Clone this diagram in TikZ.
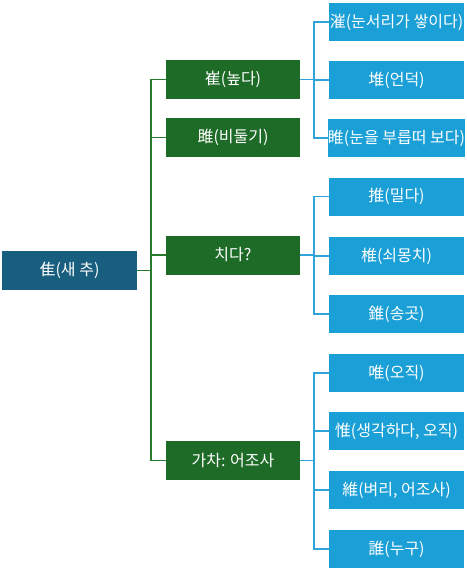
\documentclass[tikz,border=0pt]{standalone}
\usepackage{fontspec}
\setmainfont{Noto Sans CJK KR}
\definecolor{rootc}{HTML}{185E7E}
\definecolor{greenc}{HTML}{1E6B28}
\definecolor{bluec}{HTML}{1A9FD6}
\definecolor{glinec}{HTML}{2A7A30}
\definecolor{blinec}{HTML}{2EA4DA}
\begin{document}
\begin{tikzpicture}[x=1pt,y=-1pt,
  box/.style={inner sep=0pt, text=white, font=\fontsize{16}{19}\selectfont},
  rootbox/.style={box, fill=rootc, minimum width=135pt, minimum height=39pt},
  gbox/.style={box, fill=greenc, minimum width=134pt, minimum height=39pt},
  bbox/.style={box, fill=bluec, minimum width=135pt, minimum height=38pt},
  gline/.style={draw=glinec, line width=1.8pt},
  bline/.style={draw=blinec, line width=1.8pt}]
\useasboundingbox (0,0) rectangle (466,570);
\node[rootbox] (root) at (69.5,270.5) {隹(새 추)};
\node[gbox] (g1) at (233,79.5) {崔(높다)};
\node[gbox] (g2) at (233,137.5) {雎(비둘기)};
\node[gbox] (g3) at (233,255) {치다?};
\node[gbox] (g4) at (233,460.5) {가차: 어조사};
\node[bbox] (b1) at (396.5,22) {漼(눈서리가 쌓이다)};
\node[bbox] (b2) at (396.5,80) {堆(언덕)};
\node[bbox] (b3) at (396.5,138) {睢(눈을 부릅떠 보다)};
\node[bbox] (b4) at (396.5,196.5) {推(밀다)};
\node[bbox] (b5) at (396.5,256) {椎(쇠몽치)};
\node[bbox] (b6) at (396.5,314) {錐(송곳)};
\node[bbox] (b7) at (396.5,373) {唯(오직)};
\node[bbox] (b8) at (396.5,431) {惟(생각하다, 오직)};
\node[bbox] (b9) at (396.5,490) {維(벼리, 어조사)};
\node[bbox] (b10) at (396.5,549) {誰(누구)};
\coordinate (rj) at ([xshift=14pt]root.east);
\foreach \g in {g1,g2,g3,g4}{
  \draw[gline] (root.east) -- (rj) |- (\g.west);
}
\coordinate (j1) at ([xshift=14pt]g1.east);
\coordinate (j3) at ([xshift=14pt]g3.east);
\coordinate (j4) at ([xshift=14pt]g4.east);
\foreach \b in {b1,b2,b3}{
  \draw[bline] (g1.east) -- (j1) |- (\b.west);
}
\foreach \b in {b4,b5,b6}{
  \draw[bline] (g3.east) -- (j3) |- (\b.west);
}
\foreach \b in {b7,b8,b9,b10}{
  \draw[bline] (g4.east) -- (j4) |- (\b.west);
}
\end{tikzpicture}
\end{document}
